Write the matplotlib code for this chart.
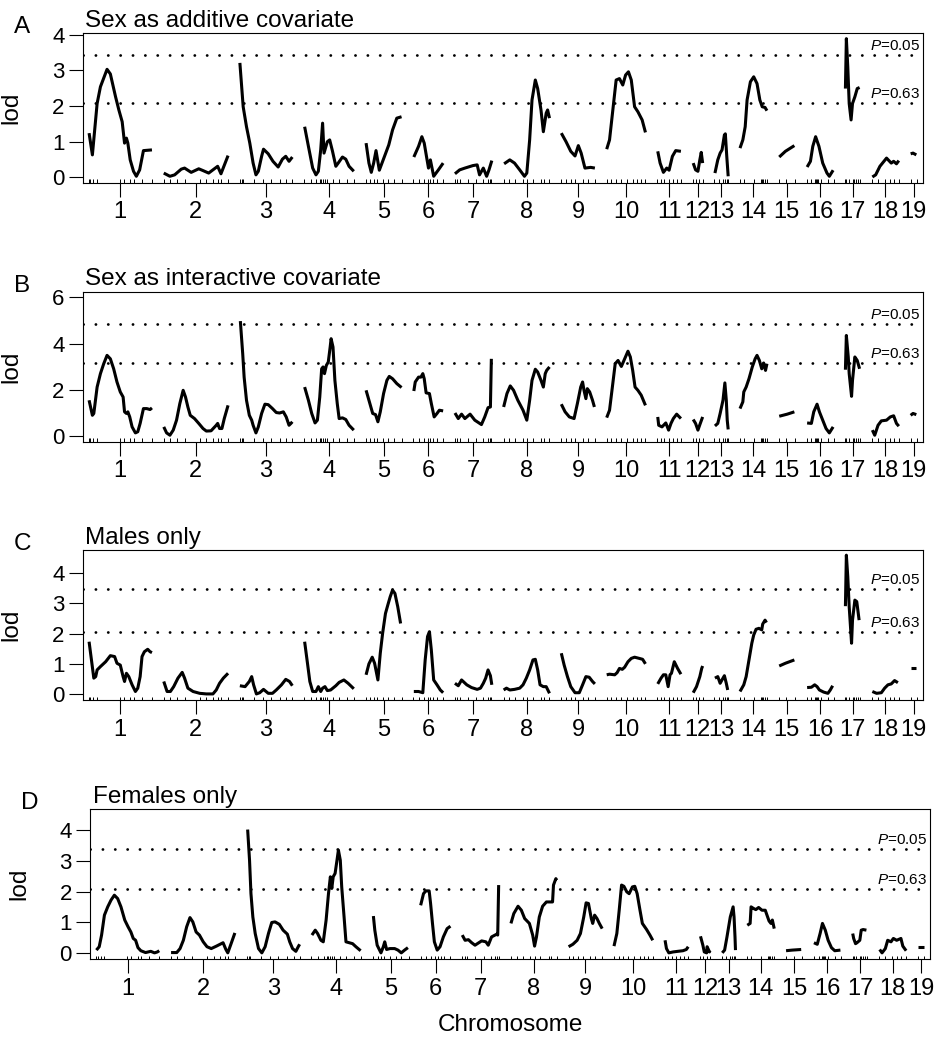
import matplotlib
matplotlib.use("Agg")
import matplotlib.pyplot as plt
import numpy as np

plt.rcParams["font.family"] = ["Liberation Sans", "DejaVu Sans"]
plt.rcParams["mathtext.fontset"] = "custom"
plt.rcParams["mathtext.it"] = "Liberation Sans:italic"
plt.rcParams["mathtext.rm"] = "Liberation Sans"

# chromosome map (cM)
chrom_names = [str(i) for i in range(1, 20)]
chrom_len = [134, 136, 111, 105, 76, 63, 78, 97, 71, 82, 50, 21, 29, 57, 34, 57, 31, 57, 13]
gap = 25
markers = [
    [0, 4, 10, 17, 66, 74, 88, 95, 112, 134],
    [0, 13, 27, 44, 76, 90, 104, 114, 121, 136],
    [0, 4, 7, 30, 48, 66, 84, 98, 111],
    [0, 14, 26, 33, 36, 40, 44, 48, 60, 74, 90, 105],
    [0, 10, 18, 24, 36, 48, 60, 76],
    [0, 12, 22, 30, 36, 42, 50, 63],
    [0, 5, 10, 28, 45, 60, 70, 74, 77],
    [0, 12, 25, 40, 50, 62, 80, 85, 97],
    [0, 10, 20, 30, 45, 56, 71],
    [0, 10, 20, 30, 42, 56, 64, 72, 82],
    [0, 8, 15, 25, 33, 42, 50],
    [0, 6, 14, 21],
    [0, 10, 18, 22, 26, 29],
    [0, 8, 30, 44, 46, 48, 52, 57],
    [0, 16, 34],
    [0, 10, 18, 20, 22, 24, 30, 45, 57],
    [0, 2, 8, 15, 18, 22, 27, 31],
    [0, 12, 28, 38, 47, 57],
    [0, 13],
]

# A: sex as additive covariate
A_pos = [
    [1, 8, 18, 25, 39, 46, 57, 64, 71, 76, 80, 83, 88, 95, 101, 108, 116, 134],
    [0, 13, 23, 37, 44, 58, 74, 83, 95, 114, 121, 136],
    [0, 7, 14, 21, 28, 34, 39, 46, 50, 60, 70, 81, 90, 97, 104, 111],
    [1, 9, 18, 25, 30, 35, 39, 42, 49, 54, 60, 67, 72, 81, 88, 95, 105],
    [1, 7, 12, 17, 22, 29, 40, 49, 57, 66, 76],
    [1, 11, 18, 23, 29, 32, 36, 43, 53, 63],
    [0, 10, 21, 38, 47, 52, 60, 67, 72, 78],
    [1, 13, 23, 34, 44, 49, 55, 60, 67, 72, 79, 84, 90, 93, 97],
    [0, 10, 20, 29, 36, 42, 50, 62, 71],
    [0, 6, 13, 20, 27, 34, 40, 46, 52, 59, 66, 75, 82],
    [1, 6, 13, 20, 25, 32, 39, 50],
    [1, 6, 11, 15, 18, 21],
    [1, 7, 12, 16, 21, 23, 26, 29],
    [0, 6, 11, 15, 22, 29, 36, 42, 47, 53, 57],
    [1, 14, 33],
    [1, 8, 13, 19, 26, 34, 43, 48, 56],
    [0, 2, 5, 8, 12, 15, 20, 25, 30],
    [1, 8, 17, 31, 41, 46, 52, 57],
    [0, 5, 12],
]
A_lod = [
    [1.24, 0.63, 2.07, 2.54, 3.03, 2.9, 2.26, 1.89, 1.56, 0.96, 1.1, 0.96, 0.49, 0.17, 0.03, 0.21, 0.75, 0.77],
    [0.12, 0.03, 0.07, 0.23, 0.26, 0.14, 0.24, 0.19, 0.12, 0.31, 0.10, 0.61],
    [3.21, 1.98, 1.42, 0.96, 0.4, 0.07, 0.17, 0.59, 0.79, 0.66, 0.45, 0.29, 0.51, 0.59, 0.45, 0.57],
    [1.42, 0.87, 0.26, 0.07, 0.17, 0.77, 1.52, 0.68, 1.0, 1.05, 0.73, 0.31, 0.4, 0.57, 0.51, 0.31, 0.17],
    [0.96, 0.4, 0.14, 0.4, 0.75, 0.2, 0.59, 0.91, 1.33, 1.66, 1.7],
    [0.57, 0.87, 1.14, 0.96, 0.49, 0.26, 0.49, 0.03, 0.21, 0.4],
    [0.1, 0.21, 0.26, 0.33, 0.35, 0.07, 0.26, 0.03, 0.21, 0.47],
    [0.38, 0.49, 0.4, 0.21, 0.03, 0.12, 1.05, 2.17, 2.73, 2.49, 1.89, 1.28, 1.8, 1.89, 1.66],
    [1.24, 1.0, 0.73, 0.6, 0.89, 0.68, 0.26, 0.28, 0.26],
    [0.79, 1.05, 1.89, 2.73, 2.77, 2.59, 2.87, 2.96, 2.73, 1.98, 1.84, 1.61, 1.26],
    [0.73, 0.4, 0.14, 0.26, 0.2, 0.59, 0.75, 0.73],
    [0.4, 0.21, 0.17, 0.49, 0.7, 0.4],
    [0.12, 0.49, 0.68, 0.77, 1.19, 1.22, 0.59, 0.03],
    [0.82, 1.05, 1.42, 2.17, 2.68, 2.82, 2.63, 2.17, 1.98, 1.96, 1.87],
    [0.57, 0.73, 0.89],
    [0.29, 0.45, 0.87, 1.14, 0.87, 0.4, 0.12, 0.03, 0.2],
    [2.49, 3.89, 3.1, 2.07, 1.61, 2.07, 2.26, 2.49, 2.52],
    [0.01, 0.07, 0.31, 0.54, 0.4, 0.45, 0.38, 0.47],
    [0.66, 0.68, 0.63],
]

# B: sex as interactive covariate
B_pos = [
    [1, 8, 11, 18, 25, 32, 39, 46, 53, 60, 67, 73, 76, 80, 83, 87, 92, 99, 104, 109, 116, 123, 130, 134],
    [0, 6, 13, 20, 27, 34, 41, 46, 51, 56, 65, 74, 83, 90, 100, 111, 114, 118, 123, 128, 136],
    [1, 6, 9, 14, 20, 25, 28, 34, 39, 46, 53, 60, 69, 77, 84, 92, 98, 104, 108, 111],
    [1, 9, 16, 23, 28, 33, 37, 40, 43, 47, 51, 55, 57, 61, 65, 70, 74, 81, 88, 95, 105],
    [1, 8, 15, 21, 26, 31, 38, 45, 50, 57, 66, 76],
    [1, 4, 11, 16, 20, 23, 27, 34, 38, 44, 50, 55, 63],
    [0, 7, 14, 21, 32, 42, 56, 63, 70, 75, 77],
    [0, 7, 14, 21, 30, 41, 49, 55, 60, 67, 72, 79, 84, 88, 91, 97],
    [0, 8, 17, 27, 34, 41, 45, 48, 52, 55, 60, 66, 70],
    [0, 6, 12, 18, 24, 31, 38, 45, 50, 55, 60, 66, 73, 82],
    [1, 3, 10, 18, 24, 29, 34, 41, 50],
    [1, 6, 11, 16, 21],
    [1, 7, 12, 18, 22, 25, 27, 29],
    [0, 6, 8, 13, 19, 26, 32, 36, 41, 46, 50, 54, 57],
    [1, 18, 33],
    [1, 10, 15, 22, 27, 34, 41, 48, 56],
    [0, 2, 6, 8, 13, 15, 20, 25, 30],
    [1, 6, 13, 20, 31, 39, 46, 52, 57],
    [0, 5, 12],
]
B_lod = [
    [1.55, 0.9, 0.98, 2.12, 2.7, 3.13, 3.49, 3.34, 2.91, 2.34, 1.91, 1.69, 1.05, 0.98, 1.05, 0.83, 0.4, 0.14, 0.19, 0.55, 1.19, 1.19, 1.15, 1.22],
    [0.4, 0.14, 0.04, 0.26, 0.69, 1.41, 1.98, 1.69, 1.26, 0.9, 0.76, 0.55, 0.33, 0.22, 0.23, 0.47, 0.55, 0.33, 0.33, 0.76, 1.33],
    [4.97, 3.56, 2.55, 1.55, 0.9, 0.69, 0.47, 0.14, 0.4, 0.98, 1.38, 1.36, 1.19, 1.02, 1.0, 1.05, 0.83, 0.47, 0.55, 0.62],
    [2.12, 1.55, 0.98, 0.57, 0.69, 1.69, 2.91, 2.99, 2.7, 3.06, 3.2, 3.85, 4.21, 3.85, 2.41, 1.41, 0.76, 0.79, 0.72, 0.47, 0.26],
    [1.98, 1.48, 0.98, 0.93, 0.62, 1.05, 1.84, 2.41, 2.58, 2.48, 2.27, 2.1],
    [1.95, 2.34, 2.55, 2.55, 2.7, 2.48, 1.87, 1.84, 1.41, 0.83, 0.98, 1.12, 1.09],
    [1.0, 0.76, 0.95, 0.76, 0.95, 0.69, 0.5, 0.83, 1.23, 1.26, 3.34],
    [1.26, 1.84, 2.17, 1.98, 1.55, 1.12, 0.69, 1.55, 2.41, 2.89, 2.77, 2.41, 2.12, 2.7, 2.84, 2.99],
    [1.38, 1.05, 0.83, 0.76, 1.41, 2.12, 2.34, 1.98, 1.62, 2.05, 1.91, 1.55, 1.26],
    [0.8, 1.12, 2.12, 3.13, 3.27, 3.01, 3.34, 3.67, 3.42, 2.84, 2.12, 1.98, 1.77, 1.33],
    [0.83, 0.47, 0.4, 0.57, 0.26, 0.55, 0.76, 0.95, 0.76],
    [0.72, 0.55, 0.26, 0.55, 0.83],
    [0.44, 0.55, 0.98, 1.55, 2.3, 1.55, 0.69, 0.29],
    [1.19, 1.48, 1.91, 2.12, 2.48, 2.99, 3.34, 3.49, 3.27, 2.91, 3.16, 2.84, 3.13],
    [0.86, 0.95, 1.05],
    [0.57, 0.55, 1.05, 1.38, 1.05, 0.69, 0.33, 0.14, 0.4],
    [2.87, 4.35, 3.42, 2.7, 1.72, 2.41, 3.42, 3.27, 2.91],
    [0.26, 0.04, 0.47, 0.66, 0.69, 0.83, 0.88, 0.55, 0.43],
    [0.9, 0.98, 0.93],
]

# C: males only
C_pos = [
    [1, 6, 11, 15, 18, 25, 36, 46, 55, 60, 67, 73, 76, 80, 85, 92, 99, 104, 109, 113, 118, 125, 130, 134],
    [0, 7, 14, 21, 30, 39, 44, 51, 62, 76, 90, 104, 111, 118, 126, 136],
    [0, 11, 20, 25, 29, 35, 42, 50, 60, 69, 77, 88, 97, 105, 111],
    [1, 7, 12, 18, 25, 30, 35, 39, 44, 49, 56, 67, 74, 84, 93, 105],
    [1, 7, 14, 19, 26, 31, 36, 42, 47, 52, 57, 62, 68, 74],
    [1, 11, 20, 25, 30, 34, 38, 43, 50, 57, 63],
    [0, 7, 14, 25, 35, 47, 54, 60, 65, 70, 75, 78],
    [0, 6, 13, 23, 34, 41, 48, 55, 62, 67, 72, 77, 84, 90, 97],
    [0, 6, 13, 20, 29, 38, 45, 52, 59, 66, 71],
    [0, 6, 17, 22, 27, 33, 38, 45, 52, 59, 69, 76, 82],
    [1, 8, 13, 18, 23, 27, 30, 36, 43, 50],
    [1, 8, 15, 19, 21],
    [1, 7, 12, 18, 21, 25, 28],
    [0, 8, 13, 19, 25, 29, 34, 40, 46, 48, 53, 56],
    [1, 14, 33],
    [1, 10, 17, 22, 27, 36, 45, 50, 55],
    [0, 2, 5, 8, 13, 15, 20, 24, 29],
    [1, 10, 20, 27, 34, 41, 48, 55],
    [0, 12],
]
C_lod = [
    [1.73, 1.13, 0.53, 0.58, 0.8, 0.91, 1.07, 1.27, 1.24, 1.02, 0.96, 0.58, 0.42, 0.69, 0.58, 0.31, 0.09, 0.2, 0.58, 1.24, 1.4, 1.48, 1.4, 1.37],
    [0.42, 0.09, 0.09, 0.25, 0.53, 0.72, 0.53, 0.2, 0.09, 0.03, 0.01, 0.01, 0.14, 0.36, 0.53, 0.69],
    [0.28, 0.25, 0.42, 0.58, 0.31, 0.01, 0.05, 0.16, 0.03, 0.03, 0.14, 0.31, 0.49, 0.42, 0.28],
    [1.73, 1.02, 0.42, 0.09, 0.09, 0.25, 0.09, 0.2, 0.25, 0.12, 0.14, 0.28, 0.39, 0.47, 0.36, 0.18],
    [0.64, 1.0, 1.22, 1.02, 0.47, 1.35, 2.01, 2.66, 2.94, 3.21, 3.43, 3.32, 2.88, 2.33],
    [0.09, 0.09, 0.05, 1.13, 1.9, 2.06, 1.46, 0.47, 0.31, 0.14, 0.05],
    [0.36, 0.28, 0.47, 0.31, 0.22, 0.16, 0.2, 0.36, 0.53, 0.8, 0.61, 0.31],
    [0.14, 0.2, 0.14, 0.16, 0.2, 0.31, 0.53, 0.8, 1.13, 1.15, 0.8, 0.31, 0.25, 0.25, 0.03],
    [1.35, 0.96, 0.58, 0.25, 0.05, 0.05, 0.31, 0.58, 0.56, 0.42, 0.34],
    [0.64, 0.66, 0.64, 0.71, 0.85, 0.82, 0.89, 1.07, 1.18, 1.22, 1.18, 1.15, 1.0],
    [0.34, 0.53, 0.64, 0.64, 0.25, 0.64, 0.69, 1.07, 0.85, 0.66],
    [0.05, 0.25, 0.58, 0.85, 0.93],
    [0.53, 0.58, 0.36, 0.53, 0.61, 0.36, 0.14],
    [0.09, 0.31, 0.58, 1.13, 1.68, 1.95, 2.14, 2.17, 2.12, 2.31, 2.44, 2.36],
    [0.93, 1.02, 1.13],
    [0.22, 0.23, 0.31, 0.25, 0.14, 0.07, 0.03, 0.14, 0.28],
    [2.9, 4.58, 3.87, 2.88, 1.68, 2.44, 3.1, 3.05, 2.44],
    [0.09, 0.03, 0.05, 0.2, 0.31, 0.34, 0.45, 0.38],
    [0.85, 0.85],
]

# D: females only
D_pos = [
    [1, 7, 12, 18, 25, 32, 39, 46, 53, 61, 68, 74, 79, 84, 89, 95, 105, 116, 124, 130, 134],
    [0, 12, 19, 26, 33, 40, 46, 53, 60, 68, 76, 85, 96, 110, 116, 120, 127, 135],
    [1, 5, 8, 12, 17, 24, 31, 38, 45, 52, 59, 68, 76, 85, 90, 96, 103, 108, 111],
    [1, 8, 13, 20, 25, 31, 36, 40, 43, 46, 50, 54, 57, 61, 64, 69, 73, 80, 87, 94, 104],
    [1, 4, 9, 17, 22, 25, 29, 36, 46, 53, 60, 67, 74],
    [0, 6, 11, 18, 21, 25, 29, 35, 41, 48, 56, 63],
    [0, 6, 13, 20, 27, 38, 41, 50, 55, 62, 73, 75, 77],
    [0, 6, 15, 22, 29, 39, 46, 50, 54, 60, 67, 75, 84, 88, 90, 95, 97],
    [0, 9, 18, 25, 32, 37, 42, 48, 51, 55, 60, 65, 71],
    [0, 6, 11, 16, 21, 27, 32, 39, 44, 49, 55, 60, 69, 76, 82],
    [1, 4, 9, 18, 28, 39, 46, 50],
    [1, 6, 9, 14, 15, 20, 21],
    [1, 6, 11, 18, 24, 26, 28, 29],
    [0, 6, 8, 13, 18, 24, 31, 38, 43, 46, 50, 53, 57],
    [0, 13, 32],
    [0, 7, 13, 18, 24, 30, 37, 44, 56],
    [0, 2, 6, 9, 15, 18, 22, 29],
    [1, 6, 13, 18, 25, 30, 37, 46, 50, 57],
    [0, 13],
]
D_lod = [
    [0.09, 0.2, 0.58, 1.23, 1.5, 1.72, 1.88, 1.77, 1.5, 1.07, 0.85, 0.68, 0.47, 0.41, 0.17, 0.07, 0.01, 0.05, 0.0, 0.03, 0.07],
    [0.01, 0.01, 0.14, 0.41, 0.85, 1.15, 1.01, 0.68, 0.58, 0.36, 0.2, 0.14, 0.22, 0.33, 0.11, 0.0, 0.3, 0.65],
    [4.02, 3.02, 1.93, 1.17, 0.63, 0.14, 0.0, 0.2, 0.63, 0.99, 1.01, 0.93, 0.74, 0.61, 0.36, 0.14, 0.05, 0.2, 0.28],
    [0.58, 0.74, 0.63, 0.41, 0.36, 1.07, 1.93, 2.48, 2.1, 2.48, 2.59, 3.02, 3.35, 3.02, 2.15, 1.17, 0.36, 0.33, 0.3, 0.2, 0.07],
    [1.2, 0.74, 0.25, 0.0, 0.2, 0.36, 0.11, 0.14, 0.14, 0.09, 0.0, 0.09, 0.17],
    [1.55, 1.93, 2.02, 2.02, 1.61, 0.96, 0.36, 0.09, 0.2, 0.52, 0.79, 0.87],
    [0.58, 0.41, 0.43, 0.33, 0.25, 0.36, 0.39, 0.36, 0.25, 0.52, 0.61, 0.58, 2.21],
    [0.96, 1.28, 1.52, 1.39, 1.12, 0.96, 0.58, 0.22, 0.52, 1.17, 1.52, 1.66, 1.66, 1.66, 2.21, 2.42, 2.37],
    [0.2, 0.28, 0.41, 0.63, 1.17, 1.63, 1.61, 1.12, 0.96, 1.23, 1.12, 0.96, 0.79],
    [0.22, 0.63, 1.39, 2.21, 2.17, 1.99, 1.93, 2.15, 2.17, 1.93, 1.39, 0.96, 0.76, 0.58, 0.41],
    [0.41, 0.14, 0.0, 0.03, 0.05, 0.07, 0.11, 0.2],
    [0.54, 0.25, 0.03, 0.0, 0.2, 0.03, 0.07],
    [0.0, 0.09, 0.52, 1.17, 1.5, 1.17, 0.52, 0.09],
    [0.9, 0.96, 1.5, 1.45, 1.41, 1.48, 1.39, 1.39, 1.17, 1.04, 0.96, 1.07, 0.79],
    [0.07, 0.09, 0.11],
    [0.33, 0.28, 0.63, 0.96, 0.74, 0.41, 0.17, 0.07, 0.09],
    [0.63, 0.47, 0.3, 0.33, 0.41, 0.74, 0.76, 0.74],
    [0.11, 0.0, 0.14, 0.41, 0.36, 0.47, 0.41, 0.47, 0.22, 0.07],
    [0.2, 0.2],
]

letters = ["A", "B", "C", "D"]
titles = ["Sex as additive covariate", "Sex as interactive covariate", "Males only", "Females only"]
thresholds = [[3.43, 2.08], [4.86, 3.16], [3.47, 2.05], [3.39, 2.07]]
thr_labels = ["0.05", "0.63"]
ylims = [(-0.15, 4.04), (-0.24, 6.24), (-0.19, 4.75), (-0.2, 4.69)]
yticks = [[0, 1, 2, 3, 4], [0, 2, 4, 6], [0, 1, 2, 3, 4], [0, 1, 2, 3, 4]]
all_pos = [A_pos, B_pos, C_pos, D_pos]
all_lod = [A_lod, B_lod, C_lod, D_lod]

W, H = 953, 1050
# axes boxes in pixels: left, top, right, bottom
boxes = [(82.7, 33.3, 922.7, 182.7), (82.7, 291.7, 922.7, 441.7),
         (82.7, 550, 922.7, 700), (90, 809, 930, 959)]

starts = []
s = 0
for L in chrom_len:
    starts.append(s)
    s += L + gap
total = s - gap
mids = [st + L / 2 for st, L in zip(starts, chrom_len)]

fig = plt.figure(figsize=(W / 100, H / 100), dpi=100)

for k in range(4):
    l, t, r, b = boxes[k]
    ax = fig.add_axes([l / W, 1 - b / H, (r - l) / W, (b - t) / H])
    for i in range(19):
        x = starts[i] + np.array(all_pos[k][i])
        ax.plot(x, all_lod[k][i], color="black", lw=2.2,
                solid_joinstyle="round", solid_capstyle="butt")
        ax.vlines(starts[i] + np.array(markers[i]), 0, 0.022,
                  transform=ax.get_xaxis_transform(), color="black", lw=0.7)
    for thr, lab in zip(thresholds[k], thr_labels):
        ax.axhline(thr, color="black", lw=2, linestyle=(0, (0.05, 4.4)),
                   dash_capstyle="round")
        ax.annotate(r"$P$=" + lab, xy=(1, thr), xycoords=("axes fraction", "data"),
                    xytext=(-2, 1.5), textcoords="offset points",
                    ha="right", va="bottom", fontsize=11)
    ax.set_xlim(-gap / 2, total + gap / 2)
    ax.set_ylim(*ylims[k])
    ax.set_yticks(yticks[k])
    ax.set_xticks(mids)
    ax.set_xticklabels(chrom_names)
    ax.tick_params(axis="both", direction="out", length=10, width=0.8)
    ax.tick_params(axis="x", labelsize=17, pad=3.5)
    ax.tick_params(axis="y", labelsize=16, pad=3)
    for sp in ax.spines.values():
        sp.set_linewidth(0.8)
    ax.set_ylabel("lod", fontsize=17.5)
    ax.yaxis.set_label_coords(-60 / 840, 0.5)
    ax.annotate(titles[k], xy=(0, 1), xycoords="axes fraction",
                xytext=(2, 4.5), textcoords="offset points",
                ha="left", va="baseline", fontsize=17.5)
    fig.text((l - 69) / W, 1 - t / H, letters[k], ha="left", va="baseline", fontsize=17.5)

fig.text(510 / W, 1 - 1025 / H, "Chromosome", ha="center", va="center", fontsize=17.5)

fig.savefig("out.png", dpi=100)
